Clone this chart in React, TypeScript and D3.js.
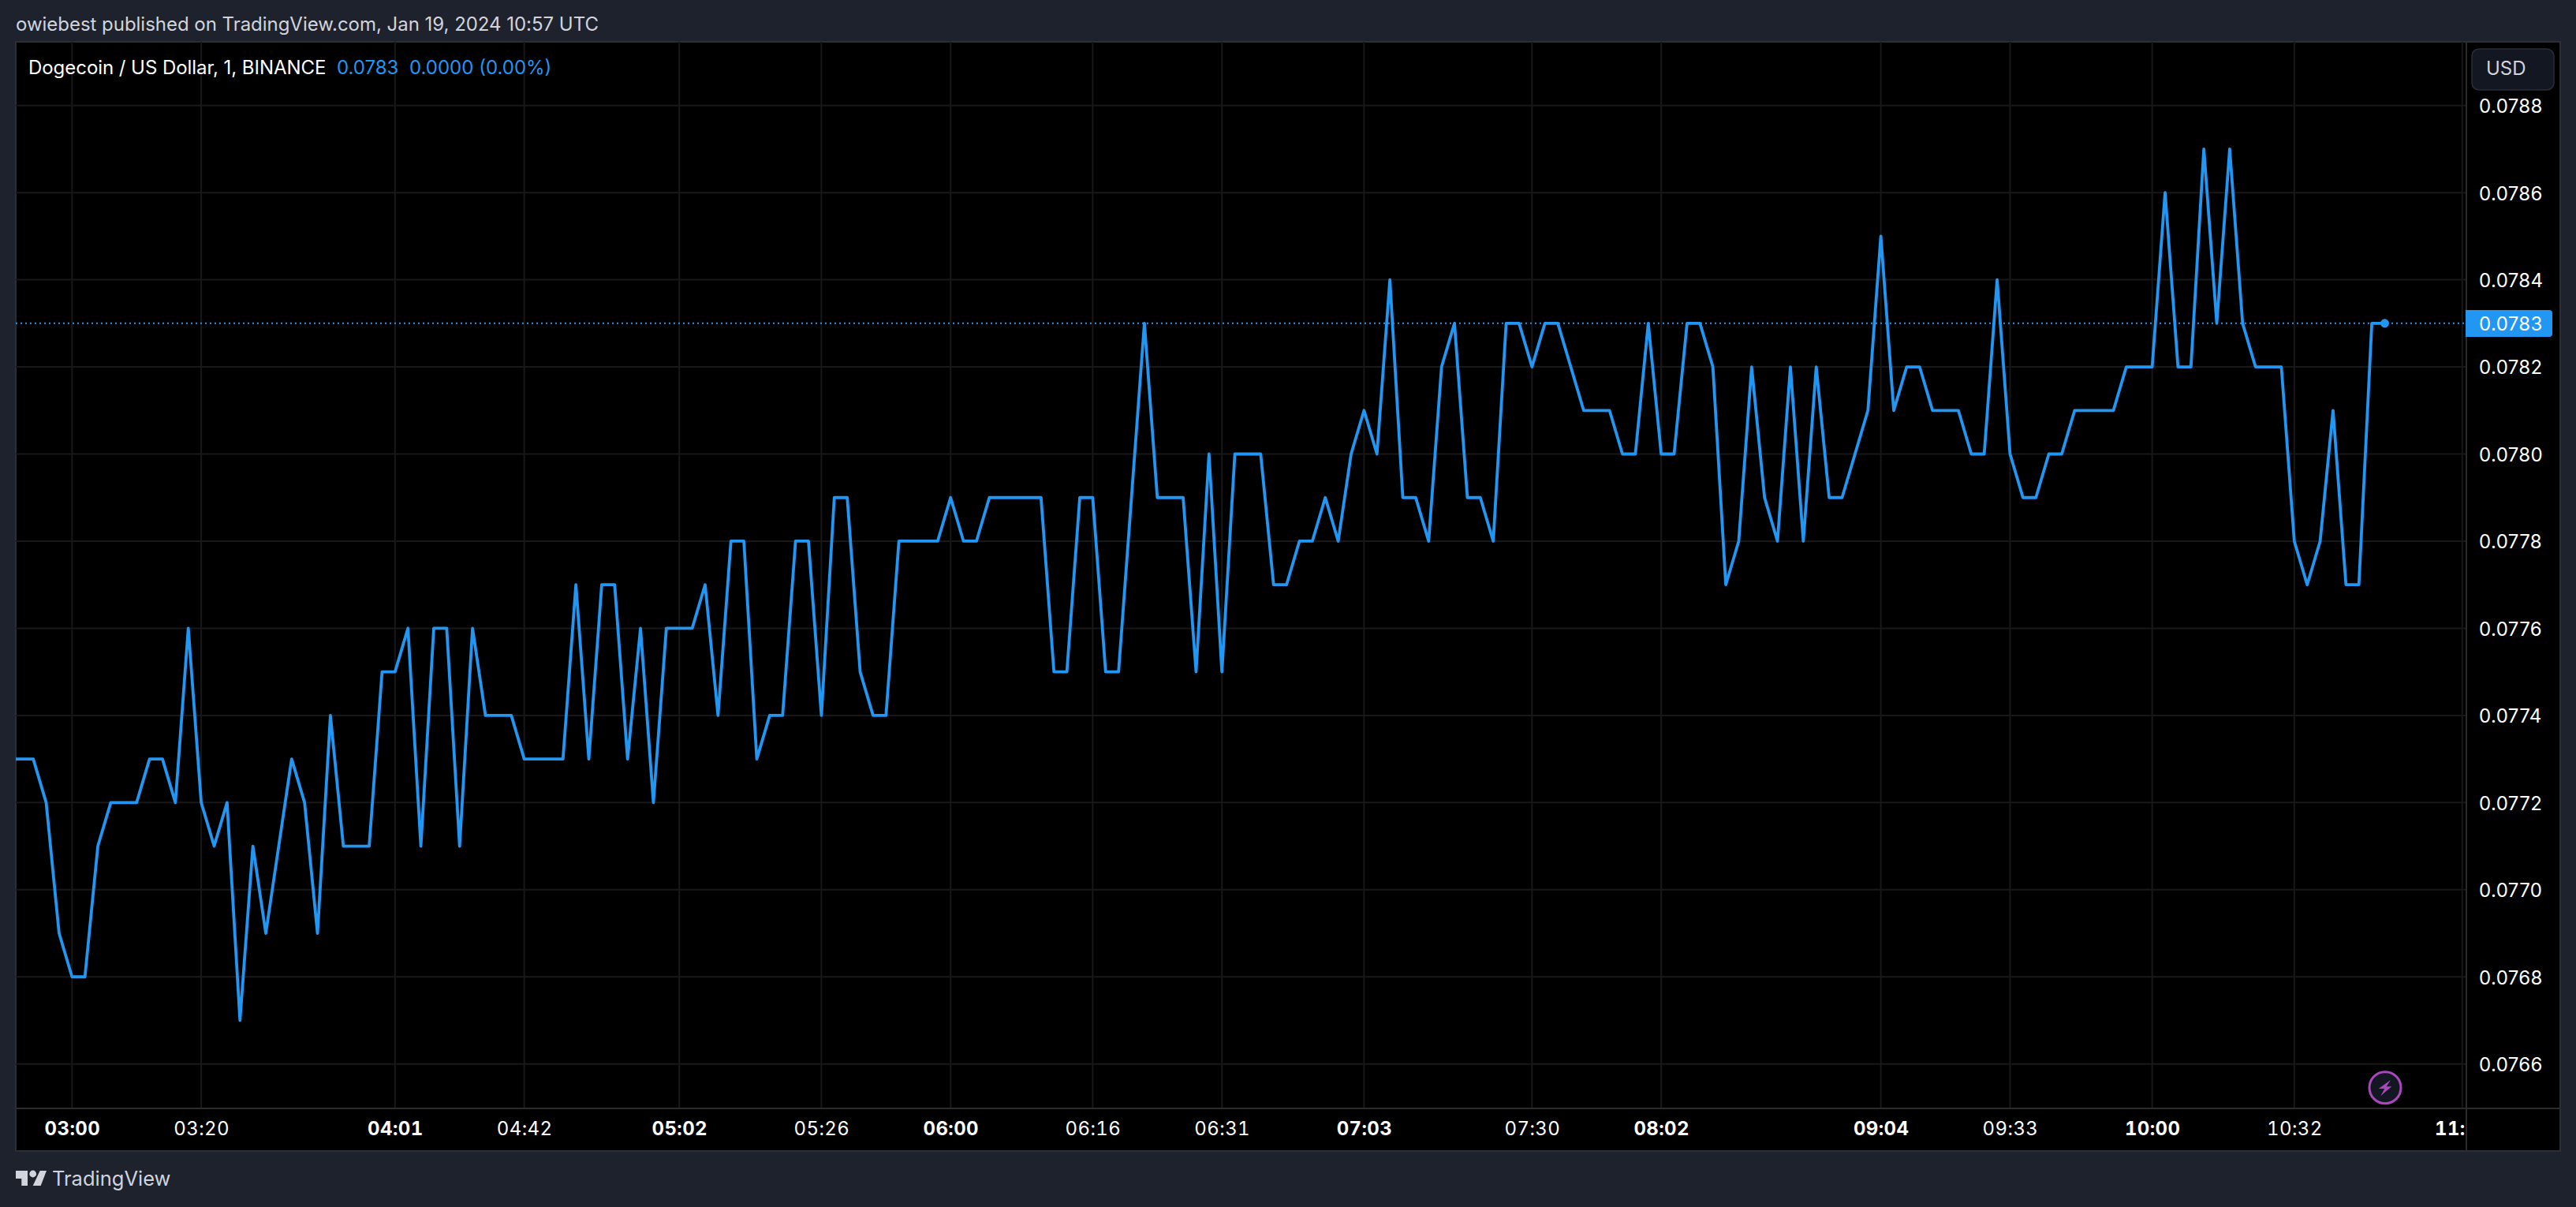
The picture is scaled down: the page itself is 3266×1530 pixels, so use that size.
import { useEffect, useRef } from "react";
import * as d3 from "d3";

// Close of every 1 minute bar (left edge to last bar)
const prices = [
  0.0773, 0.0773, 0.0773, 0.0772, 0.0769, 0.0768, 0.0768, 0.0771, 0.0772, 0.0772,
  0.0772, 0.0773, 0.0773, 0.0772, 0.0776, 0.0772, 0.0771, 0.0772, 0.0767, 0.0771,
  0.0769, 0.0771, 0.0773, 0.0772, 0.0769, 0.0774, 0.0771, 0.0771, 0.0771, 0.0775,
  0.0775, 0.0776, 0.0771, 0.0776, 0.0776, 0.0771, 0.0776, 0.0774, 0.0774, 0.0774,
  0.0773, 0.0773, 0.0773, 0.0773, 0.0777, 0.0773, 0.0777, 0.0777, 0.0773, 0.0776,
  0.0772, 0.0776, 0.0776, 0.0776, 0.0777, 0.0774, 0.0778, 0.0778, 0.0773, 0.0774,
  0.0774, 0.0778, 0.0778, 0.0774, 0.0779, 0.0779, 0.0775, 0.0774, 0.0774, 0.0778,
  0.0778, 0.0778, 0.0778, 0.0779, 0.0778, 0.0778, 0.0779, 0.0779, 0.0779, 0.0779,
  0.0779, 0.0775, 0.0775, 0.0779, 0.0779, 0.0775, 0.0775, 0.0779, 0.0783, 0.0779,
  0.0779, 0.0779, 0.0775, 0.078, 0.0775, 0.078, 0.078, 0.078, 0.0777, 0.0777,
  0.0778, 0.0778, 0.0779, 0.0778, 0.078, 0.0781, 0.078, 0.0784, 0.0779, 0.0779,
  0.0778, 0.0782, 0.0783, 0.0779, 0.0779, 0.0778, 0.0783, 0.0783, 0.0782, 0.0783,
  0.0783, 0.0782, 0.0781, 0.0781, 0.0781, 0.078, 0.078, 0.0783, 0.078, 0.078,
  0.0783, 0.0783, 0.0782, 0.0777, 0.0778, 0.0782, 0.0779, 0.0778, 0.0782, 0.0778,
  0.0782, 0.0779, 0.0779, 0.078, 0.0781, 0.0785, 0.0781, 0.0782, 0.0782, 0.0781,
  0.0781, 0.0781, 0.078, 0.078, 0.0784, 0.078, 0.0779, 0.0779, 0.078, 0.078,
  0.0781, 0.0781, 0.0781, 0.0781, 0.0782, 0.0782, 0.0782, 0.0786, 0.0782, 0.0782,
  0.0787, 0.0783, 0.0787, 0.0783, 0.0782, 0.0782, 0.0782, 0.0778, 0.0777, 0.0778,
  0.0781, 0.0777, 0.0777, 0.0783, 0.0783,
];

const priceTicks = [
  0.0766, 0.0768, 0.077, 0.0772, 0.0774, 0.0776, 0.0778, 0.078, 0.0782, 0.0784, 0.0786, 0.0788,
];

// Bars are not evenly spaced in time, so every label belongs to a bar index
const timeTickBars = [5, 15, 30, 40, 52, 63, 73, 84, 94, 105, 118, 128, 145, 155, 166, 177, 190];
const timeTickLabels = [
  "03:00", "03:20", "04:01", "04:42", "05:02", "05:26", "06:00", "06:16", "06:31",
  "07:03", "07:30", "08:02", "09:04", "09:33", "10:00", "10:32", "11:00",
];
const boldTimeLabels = ["03:00", "04:01", "05:02", "06:00", "07:03", "08:02", "09:04", "10:00", "11:00"];

const lastPrice = 0.0783;

const FONT = "Inter, 'Noto Sans', sans-serif";
const BLUE = "#2196f3";
const GRID = "#181818";
const AXIS_LINE = "#2b2b2b";

export default function App() {
  const svgRef = useRef<SVGSVGElement>(null);

  useEffect(() => {
    if (!svgRef.current) return;

    const width = 3266;
    const height = 1530;
    const frame = { left: 20, top: 53, right: 3246, bottom: 1459 };
    const plotRight = 3127;
    const plotBottom = 1405;

    const svg = d3.select(svgRef.current);
    svg.selectAll("*").remove();
    svg.attr("width", width).attr("height", height).attr("viewBox", `0 0 ${width} ${height}`);

    // Scales
    const x = d3
      .scaleLinear()
      .domain([0, prices.length - 1])
      .range([9.4, 3023.5]);
    const y = d3.scaleLinear().domain([0.0766, 0.0788]).range([1348.7, 133.7]);

    // Background + frame
    svg.append("rect").attr("width", width).attr("height", height).attr("fill", "#1e222d");
    svg
      .append("rect")
      .attr("x", frame.left)
      .attr("y", frame.top)
      .attr("width", frame.right - frame.left)
      .attr("height", frame.bottom - frame.top)
      .attr("fill", "#000000")
      .attr("stroke", "#2a2e39")
      .attr("stroke-width", 2);

    const defs = svg.append("defs");
    defs
      .append("clipPath")
      .attr("id", "plot-clip")
      .append("rect")
      .attr("x", frame.left)
      .attr("y", frame.top)
      .attr("width", plotRight - frame.left)
      .attr("height", plotBottom - frame.top);
    defs
      .append("clipPath")
      .attr("id", "time-clip")
      .append("rect")
      .attr("x", frame.left)
      .attr("y", plotBottom)
      .attr("width", plotRight - frame.left - 2)
      .attr("height", frame.bottom - plotBottom);

    // Grid
    const plot = svg.append("g").attr("clip-path", "url(#plot-clip)");
    plot
      .append("g")
      .selectAll("line")
      .data(priceTicks)
      .join("line")
      .attr("x1", frame.left)
      .attr("x2", plotRight)
      .attr("y1", (d) => y(d))
      .attr("y2", (d) => y(d))
      .attr("stroke", GRID)
      .attr("stroke-width", 2);
    plot
      .append("g")
      .selectAll("line")
      .data(timeTickBars)
      .join("line")
      .attr("x1", (d) => x(d))
      .attr("x2", (d) => x(d))
      .attr("y1", frame.top)
      .attr("y2", plotBottom)
      .attr("stroke", GRID)
      .attr("stroke-width", 2);

    // Last price line (dotted)
    plot
      .append("line")
      .attr("x1", frame.left)
      .attr("x2", plotRight)
      .attr("y1", y(lastPrice))
      .attr("y2", y(lastPrice))
      .attr("stroke", BLUE)
      .attr("stroke-width", 2)
      .attr("stroke-dasharray", "2 4");

    // Price line
    const line = d3
      .line<number>()
      .x((_, i) => x(i))
      .y((d) => y(d));
    plot
      .append("path")
      .datum(prices)
      .attr("fill", "none")
      .attr("stroke", BLUE)
      .attr("stroke-width", 3.8)
      .attr("stroke-linejoin", "round")
      .attr("d", line);
    plot
      .append("circle")
      .attr("cx", x(prices.length - 1))
      .attr("cy", y(lastPrice))
      .attr("r", 5.5)
      .attr("fill", BLUE);

    // Axis lines
    svg
      .append("line")
      .attr("x1", frame.left)
      .attr("x2", frame.right)
      .attr("y1", plotBottom)
      .attr("y2", plotBottom)
      .attr("stroke", AXIS_LINE)
      .attr("stroke-width", 2);
    svg
      .append("line")
      .attr("x1", plotRight)
      .attr("x2", plotRight)
      .attr("y1", frame.top)
      .attr("y2", frame.bottom)
      .attr("stroke", AXIS_LINE)
      .attr("stroke-width", 2);

    // Price axis
    const yAxis = svg
      .append("g")
      .attr("transform", `translate(${plotRight},0)`)
      .call(
        d3
          .axisRight(y)
          .tickValues(priceTicks)
          .tickSize(0)
          .tickPadding(16)
          .tickFormat((d) => d3.format(".4f")(d as number))
      );
    yAxis.select(".domain").remove();
    yAxis
      .selectAll("text")
      .attr("dy", "0.37em")
      .attr("fill", "#ffffff")
      .attr("font-family", FONT)
      .attr("font-size", 24)
      .attr("letter-spacing", 0.4);

    // Time axis
    const xAxis = svg
      .append("g")
      .attr("clip-path", "url(#time-clip)")
      .append("g")
      .attr("transform", `translate(0,${plotBottom})`)
      .call(
        d3
          .axisBottom(x)
          .tickValues(timeTickBars)
          .tickSize(0)
          .tickPadding(17)
          .tickFormat((_, i) => timeTickLabels[i])
      );
    xAxis.select(".domain").remove();
    xAxis
      .selectAll<SVGTextElement, number>("text")
      .attr("fill", "#ffffff")
      .attr("font-family", FONT)
      .attr("font-size", 24)
      .attr("letter-spacing", 0.4)
      .style("font-variant-numeric", "tabular-nums")
      .attr("font-weight", (_, i) => (boldTimeLabels.includes(timeTickLabels[i]) ? 700 : 400));

    // Last price tag
    svg
      .append("path")
      .attr("d", "M3126,393 H3232 a4,4 0 0 1 4,4 V423 a4,4 0 0 1 -4,4 H3126 Z")
      .attr("fill", BLUE);
    svg
      .append("text")
      .attr("x", 3143)
      .attr("y", y(lastPrice))
      .attr("dy", "0.37em")
      .attr("fill", "#ffffff")
      .attr("font-family", FONT)
      .attr("font-size", 24)
      .attr("letter-spacing", 0.4)
      .text(d3.format(".4f")(lastPrice));

    // USD button
    svg
      .append("rect")
      .attr("x", 3134)
      .attr("y", 62)
      .attr("width", 104)
      .attr("height", 52)
      .attr("rx", 9)
      .attr("fill", "#131722")
      .attr("stroke", "#2a2e39")
      .attr("stroke-width", 1.5);
    svg
      .append("text")
      .attr("x", 3152)
      .attr("y", 87)
      .attr("dy", "0.35em")
      .attr("fill", "#d1d4dc")
      .attr("font-family", FONT)
      .attr("font-size", 24)
      .text("USD");

    // Header + legend
    svg
      .append("text")
      .attr("x", 20)
      .attr("y", 31)
      .attr("dy", "0.35em")
      .attr("fill", "#d1d4dc")
      .attr("font-family", FONT)
      .attr("font-size", 24)
      .attr("letter-spacing", -0.03)
      .text("owiebest published on TradingView.com, Jan 19, 2024 10:57 UTC");
    const legend = svg
      .append("text")
      .attr("x", 36)
      .attr("y", 86)
      .attr("dy", "0.35em")
      .attr("font-family", FONT)
      .attr("font-size", 24)
      .attr("fill", "#ffffff");
    legend.append("tspan").attr("letter-spacing", -0.05).text("Dogecoin / US Dollar, 1, BINANCE");
    legend.append("tspan").attr("x", 427).attr("fill", BLUE).text("0.0783");
    legend.append("tspan").attr("x", 519).attr("fill", BLUE).text("0.0000 (0.00%)");

    // TradingView logo
    const logo = svg.append("g").attr("fill", "#d1d4dc");
    logo.append("path").attr("d", "M20,1484 H35 V1503 H27.3 V1494 H20 Z");
    logo.append("circle").attr("cx", 41.7).attr("cy", 1488).attr("r", 4.4);
    logo.append("path").attr("d", "M50.7,1484 H59 L51.7,1503 H41.7 Z");
    svg
      .append("text")
      .attr("x", 66)
      .attr("y", 1494)
      .attr("dy", "0.35em")
      .attr("fill", "#d1d4dc")
      .attr("font-family", FONT)
      .attr("font-size", 25.5)
      .text("TradingView");

    // Lightning badge
    svg
      .append("circle")
      .attr("cx", 3024)
      .attr("cy", 1378.7)
      .attr("r", 20)
      .attr("fill", "#131722")
      .attr("stroke", "#ab47bc")
      .attr("stroke-width", 3);
    svg
      .append("path")
      .attr("d", "M3031,1369 L3015.7,1380 H3023.3 L3018.3,1389.3 L3032.3,1377.3 H3025.7 Z")
      .attr("fill", "#ab47bc");
  }, []);

  return <svg ref={svgRef} style={{ position: "absolute", left: 0, top: 0, display: "block" }} />;
}
